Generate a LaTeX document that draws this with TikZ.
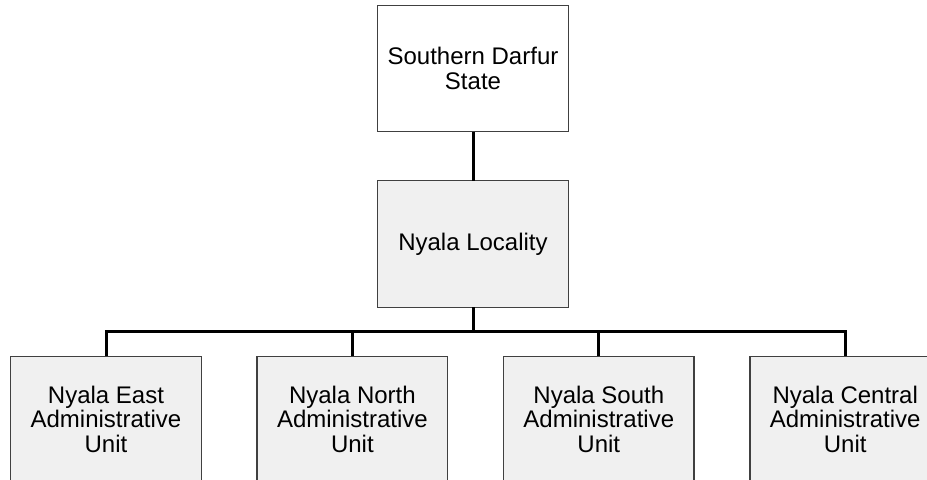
\documentclass[tikz,border=0pt]{standalone}
\usepackage{fontspec}
\setmainfont{Liberation Sans}
\usetikzlibrary{positioning}
\tikzstyle{org} = [rectangle, draw=black!75, line width=0.65pt, fill=white,
   minimum width=95.3pt, minimum height=63.2pt, align=center,
   font=\fontsize{12}{12.3}\selectfont, inner sep=0pt, outer sep=0pt]
\tikzstyle{unit} = [org, fill=black!6]
\tikzstyle{conn} = [draw, line width=1.5pt]

\begin{document}
\begin{tikzpicture}[node distance=24.6pt]

\useasboundingbox (0,0) rectangle (463.5pt,-240pt);
\clip (0,0) rectangle (463.5pt,-240pt);

\node (state) [org] at (236.5pt,-34.2pt) {Southern Darfur\\State};

\node (locality) [unit, below=of state] {Nyala Locality};

\draw [conn] (state) -- (locality);

\node (east) [unit, below=24.5pt of locality, xshift=-183.5pt] {Nyala East\\Administrative\\Unit};

\node (north) [unit, right=27.9pt of east] {Nyala North\\Administrative\\Unit};

\node (south) [unit, right=27.9pt of north] {Nyala South\\Administrative\\Unit};

\node (central) [unit, right=27.9pt of south] {Nyala Central\\Administrative\\Unit};

% bus line
\draw [conn] (locality.south) -- ++(0,-12.3pt) coordinate (bus);
\draw [conn] (east.north) |- (bus) -| (central.north);
\draw [conn] (north.north) -- (north.north |- bus);
\draw [conn] (south.north) -- (south.north |- bus);

\end{tikzpicture}
\end{document}
